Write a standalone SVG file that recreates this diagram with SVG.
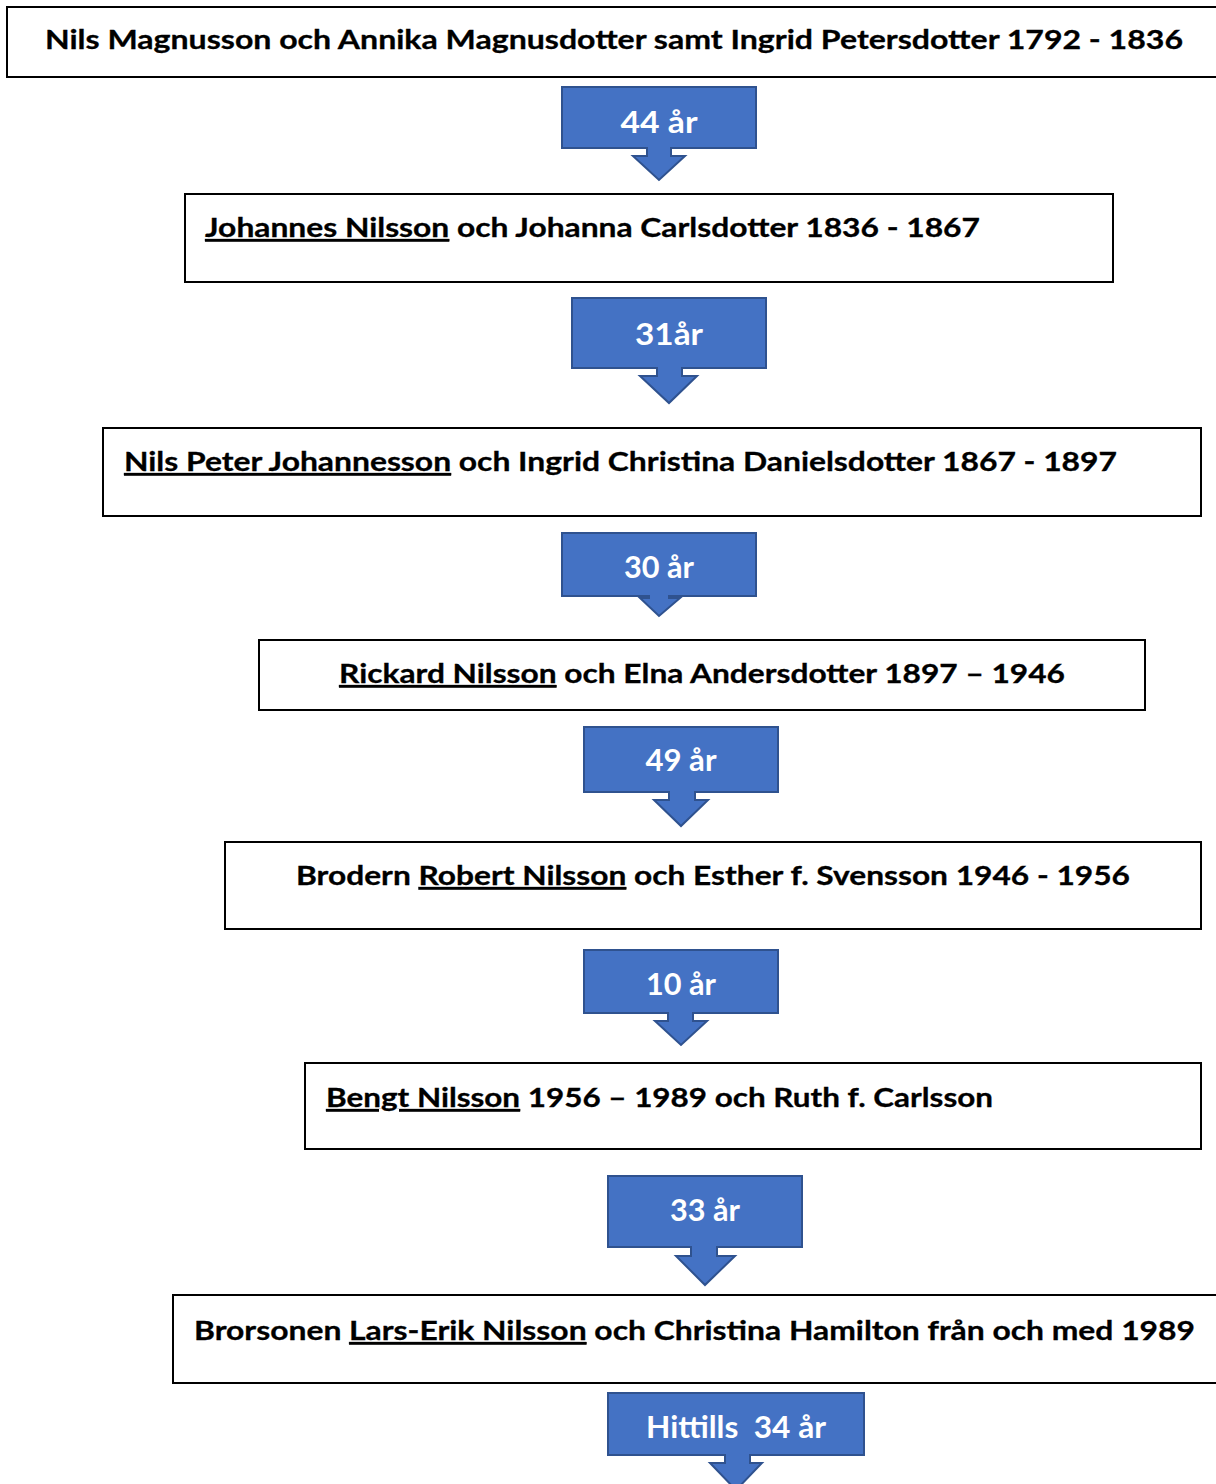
<svg xmlns="http://www.w3.org/2000/svg" width="1216" height="1484" viewBox="0 0 1216 1484">
<style>
.box{fill:#fff;stroke:#000;stroke-width:2}
.t{font-family:Lato,"Open Sans","Liberation Sans",sans-serif;font-weight:bold;font-size:27px;fill:#000;stroke:#000;stroke-width:0.3}
.u{text-decoration:underline}
.call{fill:#4472C4;stroke:#2F528F;stroke-width:2;stroke-linejoin:miter}
.ct{font-family:Lato,"Open Sans","Liberation Sans",sans-serif;font-weight:bold;font-size:31px;fill:#fff;text-anchor:middle}
</style>
<rect width="1216" height="1484" fill="#fff"/>
<g id="connectors">
<g id="c1"><path class="call" d="M562,87H756V148H671V156H685L659,180L633,156H647V148H562Z"/><text class="ct" x="659" y="133" textLength="77" lengthAdjust="spacingAndGlyphs">44 år</text></g>
<g id="c2"><path class="call" d="M572,298H766V368H682V376H697L669,403L640,376H657V368H572Z"/><text class="ct" x="669" y="345" textLength="68" lengthAdjust="spacingAndGlyphs">31år</text></g>
<g id="c3"><path class="call" d="M562,533H756V596H669V598H680L659,616L640,598H649V596H562Z"/><text class="ct" x="659" y="578" textLength="70" lengthAdjust="spacingAndGlyphs">30 år</text></g>
<g id="c4"><path class="call" d="M584,727H778V792H695V800H708L681,826L654,800H669V792H584Z"/><text class="ct" x="681" y="771" textLength="71" lengthAdjust="spacingAndGlyphs">49 år</text></g>
<g id="c5"><path class="call" d="M584,950H778V1013H693V1021H707L681,1045L655,1021H668V1013H584Z"/><text class="ct" x="681" y="995" textLength="70" lengthAdjust="spacingAndGlyphs">10 år</text></g>
<g id="c6"><path class="call" d="M608,1176H802V1247H717V1256H735L705,1285L676,1256H691V1247H608Z"/><text class="ct" x="705" y="1221" textLength="70" lengthAdjust="spacingAndGlyphs">33 år</text></g>
<g id="c7"><path class="call" d="M608,1393H864V1455H750V1463H762L736,1490L710,1463H725V1455H608Z"/><text class="ct" x="736" y="1438" textLength="180" lengthAdjust="spacingAndGlyphs" xml:space="preserve">Hittills  34 år</text></g>
</g>
<g id="n1"><rect class="box" x="7" y="7" width="1215" height="70"/><text class="t" x="45" y="49" textLength="1138" lengthAdjust="spacingAndGlyphs">Nils Magnusson och Annika Magnusdotter samt Ingrid Petersdotter 1792 - 1836</text></g>
<g id="n2"><rect class="box" x="185" y="194" width="928" height="88"/><text class="t" x="205" y="237" textLength="775" lengthAdjust="spacingAndGlyphs"><tspan class="u">Johannes Nilsson</tspan> och Johanna Carlsdotter 1836 - 1867</text></g>
<g id="n3"><rect class="box" x="103" y="428" width="1098" height="88"/><text class="t" x="124" y="471" textLength="993" lengthAdjust="spacingAndGlyphs"><tspan class="u">Nils Peter Johannesson</tspan> och Ingrid Christina Danielsdotter 1867 - 1897</text></g>
<g id="n4"><rect class="box" x="259" y="640" width="886" height="70"/><text class="t" x="339" y="683" textLength="726" lengthAdjust="spacingAndGlyphs"><tspan class="u">Rickard Nilsson</tspan> och Elna Andersdotter 1897 – 1946</text></g>
<g id="n5"><rect class="box" x="225" y="842" width="976" height="87"/><text class="t" x="296" y="885" textLength="834" lengthAdjust="spacingAndGlyphs">Brodern <tspan class="u">Robert Nilsson</tspan> och Esther f. Svensson 1946 - 1956</text></g>
<g id="n6"><rect class="box" x="305" y="1063" width="896" height="86"/><text class="t" x="326" y="1107" textLength="667" lengthAdjust="spacingAndGlyphs"><tspan class="u">Bengt Nilsson</tspan> 1956 – 1989 och Ruth f. Carlsson</text></g>
<g id="n7"><rect class="box" x="173" y="1295" width="1050" height="88"/><text class="t" x="194" y="1340" textLength="1001" lengthAdjust="spacingAndGlyphs">Brorsonen <tspan class="u">Lars-Erik Nilsson</tspan> och Christina Hamilton från och med 1989</text></g>
</svg>
